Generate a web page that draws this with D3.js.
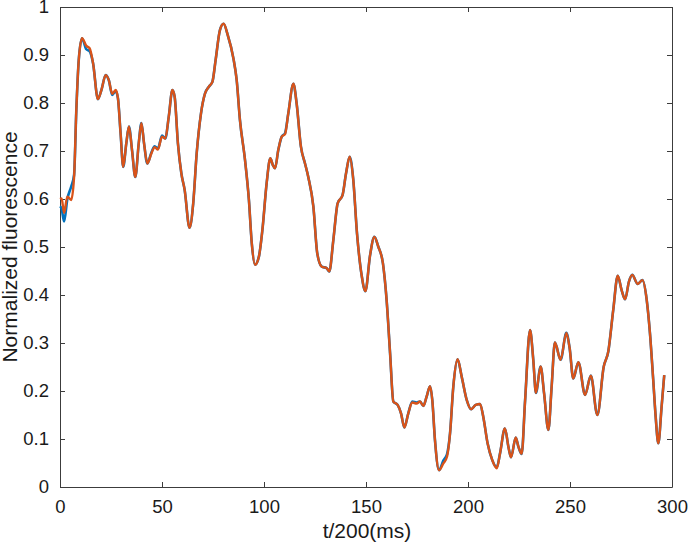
<!DOCTYPE html>
<html>
<head>
<meta charset="utf-8">
<script src="https://cdn.jsdelivr.net/npm/d3@7"></script>
<style>
  body { margin: 0; background: #fff; }
  svg { display: block; font-family: "Liberation Sans", Arial, sans-serif; }
  .axis text { font-size: 18.5px; fill: #1a1a1a; }
  .axis path, .axis line { stroke: #3c3c3c; stroke-width: 1; }
  .axisText { font-size: 21px; fill: #1a1a1a; }
</style>
</head>
<body>
<div id="chart"></div>
<script>
// Time axis (t/200 ms) sample positions
var tVals = [0, 0.8, 2.0, 3.6, 5.5, 6.9, 8.0, 9.2, 10.8, 12.9, 14.5, 16.2, 18.6, 20.3, 22.4, 23.9, 25.6, 27.3, 28.4, 29.7,
  31.0, 32.5, 33.8, 35.3, 36.9, 38.6, 39.9, 41.2, 42.8, 44.8, 46.4, 48.0, 50.0, 51.6, 53.3, 55.1, 56.2, 57.8, 59.5, 61.1,
  63.5, 65.3, 67.0, 69.1, 71.1, 73.0, 74.7, 76.3, 78.4, 80.2, 82.2, 85.0, 86.6, 88.2, 90.7, 92.6, 94.0, 95.6, 97.5, 99.2,
  101.3, 103.1, 104.3, 105.4, 107.0, 108.7, 110.3, 111.9, 114.4, 116.0, 118.1, 120.1, 121.7, 124.2, 126.1, 128.3, 130.7, 132.0, 134.0, 136.1,
  138.5, 140.2, 142.0, 143.7, 145.6, 147.9, 149.7, 152.0, 154.1, 156.0, 158.3, 160.1, 161.8, 163.4, 165.5, 167.2, 168.8, 170.7, 172.7, 174.8,
  176.5, 178.1, 179.7, 181.4, 182.5, 183.8, 185.8, 187.9, 189.7, 191.2, 192.8, 194.9, 196.9, 199.4, 201.5, 203.8, 205.9, 207.5, 209.6, 211.9,
  214.1, 215.7, 218.1, 219.8, 221.1, 223.4, 224.7, 226.3, 228.0, 230.4, 232.0, 233.3, 235.6, 237.3, 239.4, 241.0, 242.6, 245.4, 248.2, 249.8,
  251.6, 254.1, 257.4, 260.2, 263.4, 266.5, 268.8, 271.2, 273.4, 275.3, 277.0, 278.9, 280.5, 283.2, 285.5, 287.6, 289.2, 290.8, 292.0, 293.3,
  294.9, 296.2];

// First trace (blue)
var blueVals = [0.585, 0.580, 0.553, 0.600, 0.626, 0.650, 0.785, 0.890, 0.935, 0.912, 0.908, 0.883, 0.808, 0.827, 0.858, 0.848, 0.817, 0.825, 0.810, 0.737,
  0.667, 0.716, 0.751, 0.702, 0.646, 0.716, 0.758, 0.716, 0.674, 0.697, 0.710, 0.705, 0.732, 0.726, 0.771, 0.827, 0.813, 0.716, 0.653, 0.619,
  0.540, 0.591, 0.695, 0.778, 0.820, 0.834, 0.844, 0.890, 0.952, 0.965, 0.942, 0.893, 0.848, 0.765, 0.681, 0.598, 0.508, 0.463, 0.480, 0.535,
  0.633, 0.685, 0.671, 0.664, 0.702, 0.730, 0.737, 0.778, 0.840, 0.799, 0.709, 0.674, 0.646, 0.584, 0.487, 0.459, 0.456, 0.449, 0.515, 0.591,
  0.608, 0.653, 0.688, 0.643, 0.528, 0.440, 0.408, 0.483, 0.521, 0.501, 0.466, 0.390, 0.279, 0.178, 0.171, 0.153, 0.124, 0.153, 0.178, 0.176,
  0.178, 0.169, 0.188, 0.210, 0.181, 0.098, 0.035, 0.055, 0.068, 0.112, 0.209, 0.266, 0.230, 0.181, 0.162, 0.171, 0.173, 0.146, 0.091, 0.056,
  0.041, 0.070, 0.122, 0.084, 0.062, 0.103, 0.084, 0.069, 0.181, 0.327, 0.265, 0.196, 0.251, 0.195, 0.119, 0.209, 0.301, 0.265, 0.321, 0.290,
  0.226, 0.260, 0.192, 0.232, 0.150, 0.250, 0.283, 0.369, 0.440, 0.410, 0.391, 0.428, 0.442, 0.423, 0.431, 0.390, 0.320, 0.223, 0.146, 0.091,
  0.167, 0.233];

// Second trace (orange)
var orangeVals = [0.600, 0.601, 0.571, 0.605, 0.598, 0.646, 0.785, 0.890, 0.935, 0.919, 0.914, 0.883, 0.808, 0.827, 0.858, 0.848, 0.819, 0.827, 0.810, 0.737,
  0.667, 0.716, 0.751, 0.702, 0.646, 0.716, 0.758, 0.716, 0.674, 0.695, 0.708, 0.703, 0.730, 0.726, 0.771, 0.827, 0.813, 0.716, 0.653, 0.619,
  0.540, 0.591, 0.695, 0.778, 0.820, 0.834, 0.844, 0.890, 0.952, 0.965, 0.942, 0.893, 0.848, 0.765, 0.681, 0.598, 0.508, 0.463, 0.480, 0.535,
  0.633, 0.685, 0.671, 0.664, 0.702, 0.730, 0.735, 0.778, 0.840, 0.799, 0.709, 0.674, 0.646, 0.584, 0.487, 0.459, 0.456, 0.449, 0.515, 0.591,
  0.608, 0.653, 0.688, 0.643, 0.528, 0.440, 0.408, 0.483, 0.521, 0.501, 0.466, 0.390, 0.279, 0.178, 0.171, 0.153, 0.124, 0.153, 0.176, 0.174,
  0.178, 0.169, 0.188, 0.210, 0.181, 0.098, 0.035, 0.049, 0.063, 0.112, 0.209, 0.266, 0.230, 0.181, 0.162, 0.171, 0.173, 0.146, 0.091, 0.056,
  0.039, 0.070, 0.122, 0.084, 0.062, 0.103, 0.084, 0.069, 0.181, 0.327, 0.265, 0.196, 0.251, 0.195, 0.119, 0.209, 0.301, 0.265, 0.321, 0.290,
  0.226, 0.260, 0.192, 0.232, 0.150, 0.250, 0.283, 0.369, 0.440, 0.410, 0.391, 0.428, 0.442, 0.423, 0.431, 0.390, 0.320, 0.223, 0.146, 0.091,
  0.167, 0.233];

var xTicks = [0, 50, 100, 150, 200, 250, 300];
var yTicks = [0, 0.1, 0.2, 0.3, 0.4, 0.5, 0.6, 0.7, 0.8, 0.9, 1];

// SVG area
var svgWidth = 688;
var svgHeight = 546;

var margin = { top: 7, right: 16, bottom: 59, left: 60 };

var chartWidth = svgWidth - margin.left - margin.right;
var chartHeight = svgHeight - margin.top - margin.bottom;

var svg = d3.select("#chart")
  .append("svg")
  .attr("width", svgWidth)
  .attr("height", svgHeight);

var chartGroup = svg.append("g")
  .attr("transform", `translate(${margin.left}, ${margin.top})`);

var xLinearScale = d3.scaleLinear().domain([0, 300]).range([0, chartWidth]);
var yLinearScale = d3.scaleLinear().domain([0, 1]).range([chartHeight, 0]);

// Axes: ticks point inward, box on all four sides
chartGroup.append("g")
  .attr("class", "axis")
  .attr("transform", `translate(0, ${chartHeight})`)
  .call(d3.axisBottom(xLinearScale).tickValues(xTicks).tickSizeInner(-5).tickSizeOuter(0).tickPadding(13).tickFormat(d3.format("d")));

chartGroup.append("g")
  .attr("class", "axis")
  .call(d3.axisLeft(yLinearScale).tickValues(yTicks).tickSizeInner(-5).tickSizeOuter(0).tickPadding(11).tickFormat(d => d === 0 || d === 1 ? d3.format("d")(d) : d3.format(".1f")(d)));

chartGroup.append("g")
  .attr("class", "axis")
  .call(d3.axisTop(xLinearScale).tickValues(xTicks).tickSizeInner(-5).tickSizeOuter(0).tickFormat(""));

chartGroup.append("g")
  .attr("class", "axis")
  .attr("transform", `translate(${chartWidth}, 0)`)
  .call(d3.axisRight(yLinearScale).tickValues(yTicks).tickSizeInner(-5).tickSizeOuter(0).tickFormat(""));

// Lines
var line = d3.line()
  .x(d => xLinearScale(d[0]))
  .y(d => yLinearScale(d[1]))
  .curve(d3.curveMonotoneX);

var blueData = tVals.map((t, i) => [t, blueVals[i]]);
var orangeData = tVals.map((t, i) => [t, orangeVals[i]]);

chartGroup.append("path")
  .datum(blueData)
  .attr("fill", "none")
  .attr("stroke", "#0072BD")
  .attr("stroke-width", 2.6)
  .attr("stroke-linejoin", "round")
  .attr("d", line);

chartGroup.append("path")
  .datum(orangeData)
  .attr("fill", "none")
  .attr("stroke", "#D95319")
  .attr("stroke-width", 2.4)
  .attr("stroke-linejoin", "round")
  .attr("d", line);

// Axis labels
chartGroup.append("text")
  .attr("class", "axisText")
  .attr("transform", "rotate(-90)")
  .attr("x", 0 - (chartHeight / 2))
  .attr("y", 0 - margin.left + 17)
  .attr("text-anchor", "middle")
  .text("Normalized fluorescence");

chartGroup.append("text")
  .attr("class", "axisText")
  .attr("x", 307)
  .attr("y", chartHeight + 51)
  .attr("text-anchor", "middle")
  .text("t/200(ms)");
</script>
</body>
</html>
